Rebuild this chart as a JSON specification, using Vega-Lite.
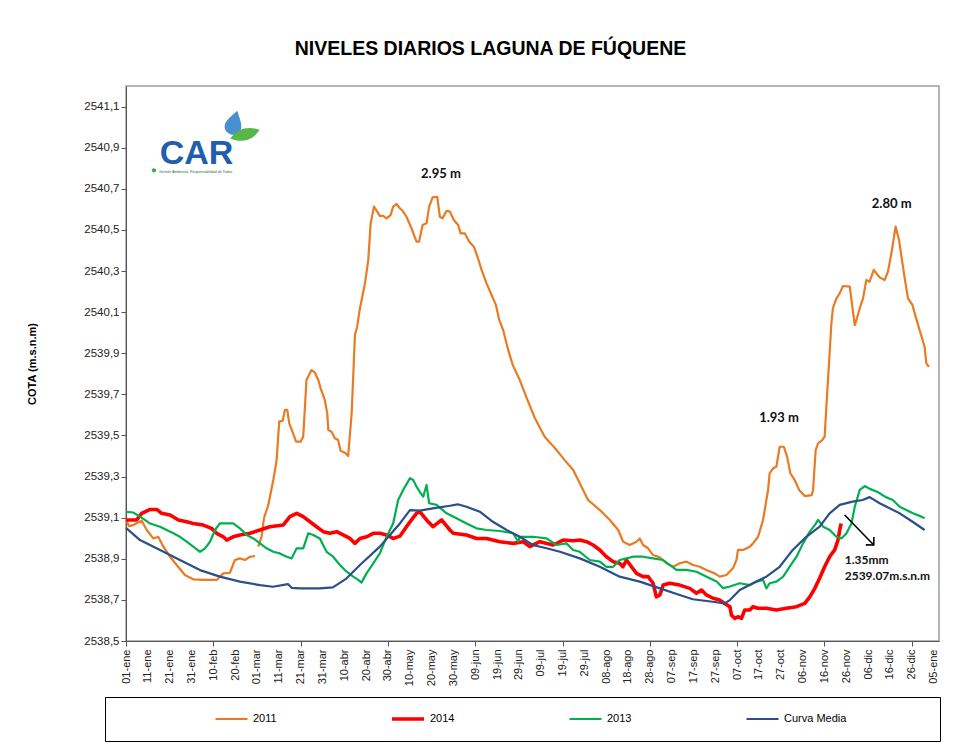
{
  "$schema": "https://vega.github.io/schema/vega-lite/v6.json",
  "width": 813,
  "height": 555,
  "autosize": {"type": "none"},
  "padding": {"left": 126, "top": 86, "right": 28, "bottom": 114},
  "background": "white",
  "title": {"text": "NIVELES DIARIOS LAGUNA DE FÚQUENE", "anchor": "middle", "frame": "group", "dx": -42, "offset": 12, "baseline": "alphabetic", "fontSize": 19.5, "fontWeight": "bold", "font": "Liberation Sans", "color": "#000000"},
  "config": {"font": "Liberation Sans", "view": {"stroke": "#9E9E9E", "strokeWidth": 1.5}},
  "datasets": {
    "niveles": [
      {"serie":"2011","dia":0,"cota":2539.089},{"serie":"2011","dia":1.4,"cota":2539.059},{"serie":"2011","dia":3.3,"cota":2539.064},{"serie":"2011","dia":7.2,"cota":2539.085},{"serie":"2011","dia":9.5,"cota":2539.04},{"serie":"2011","dia":12.5,"cota":2538.999},{"serie":"2011","dia":14.8,"cota":2539.007},{"serie":"2011","dia":17.1,"cota":2538.959},{"serie":"2011","dia":20.2,"cota":2538.91},{"serie":"2011","dia":23.2,"cota":2538.87},{"serie":"2011","dia":27,"cota":2538.821},{"serie":"2011","dia":30.8,"cota":2538.8},{"serie":"2011","dia":35.4,"cota":2538.797},{"serie":"2011","dia":41.5,"cota":2538.797},{"serie":"2011","dia":43,"cota":2538.813},{"serie":"2011","dia":44.6,"cota":2538.829},{"serie":"2011","dia":47.6,"cota":2538.832},{"serie":"2011","dia":49.9,"cota":2538.894},{"serie":"2011","dia":52.2,"cota":2538.902},{"serie":"2011","dia":54.5,"cota":2538.894},{"serie":"2011","dia":56.8,"cota":2538.91},{"serie":"2011","dia":59.1,"cota":2538.913},{"serie":"2011","dia":59.9,"cota":null},{"serie":"2011","dia":60.6,"cota":2538.959},{"serie":"2011","dia":62.1,"cota":2539.007},{"serie":"2011","dia":63.2,"cota":2539.097},{"serie":"2011","dia":65.2,"cota":2539.162},{"serie":"2011","dia":67.5,"cota":2539.283},{"serie":"2011","dia":69,"cota":2539.38},{"serie":"2011","dia":70.2,"cota":2539.567},{"serie":"2011","dia":71.8,"cota":2539.572},{"serie":"2011","dia":72.8,"cota":2539.624},{"serie":"2011","dia":73.9,"cota":2539.624},{"serie":"2011","dia":74.8,"cota":2539.559},{"serie":"2011","dia":76.3,"cota":2539.518},{"serie":"2011","dia":77.9,"cota":2539.47},{"serie":"2011","dia":80,"cota":2539.47},{"serie":"2011","dia":81.2,"cota":2539.494},{"serie":"2011","dia":82.7,"cota":2539.77},{"serie":"2011","dia":85,"cota":2539.818},{"serie":"2011","dia":86.6,"cota":2539.805},{"serie":"2011","dia":88.1,"cota":2539.77},{"serie":"2011","dia":89.2,"cota":2539.729},{"serie":"2011","dia":91.1,"cota":2539.672},{"serie":"2011","dia":92.2,"cota":2539.608},{"serie":"2011","dia":92.7,"cota":2539.526},{"serie":"2011","dia":94.2,"cota":2539.518},{"serie":"2011","dia":95.7,"cota":2539.486},{"serie":"2011","dia":97.2,"cota":2539.478},{"serie":"2011","dia":98.3,"cota":2539.426},{"serie":"2011","dia":100.3,"cota":2539.416},{"serie":"2011","dia":101.8,"cota":2539.4},{"serie":"2011","dia":103.4,"cota":2539.608},{"serie":"2011","dia":104.9,"cota":2539.989},{"serie":"2011","dia":105.9,"cota":2540.029},{"serie":"2011","dia":107.2,"cota":2540.119},{"serie":"2011","dia":109.5,"cota":2540.24},{"serie":"2011","dia":111,"cota":2540.353},{"serie":"2011","dia":112.1,"cota":2540.532},{"serie":"2011","dia":113.6,"cota":2540.613},{"serie":"2011","dia":115.1,"cota":2540.589},{"serie":"2011","dia":116.3,"cota":2540.568},{"serie":"2011","dia":117.8,"cota":2540.568},{"serie":"2011","dia":119.4,"cota":2540.556},{"serie":"2011","dia":121.2,"cota":2540.572},{"serie":"2011","dia":122.4,"cota":2540.613},{"serie":"2011","dia":124,"cota":2540.626},{"serie":"2011","dia":125.5,"cota":2540.605},{"serie":"2011","dia":127,"cota":2540.589},{"serie":"2011","dia":128.5,"cota":2540.564},{"serie":"2011","dia":130.8,"cota":2540.508},{"serie":"2011","dia":133.1,"cota":2540.443},{"serie":"2011","dia":134.3,"cota":2540.443},{"serie":"2011","dia":135.9,"cota":2540.524},{"serie":"2011","dia":137.7,"cota":2540.532},{"serie":"2011","dia":138.9,"cota":2540.613},{"serie":"2011","dia":140.5,"cota":2540.658},{"serie":"2011","dia":142.6,"cota":2540.661},{"serie":"2011","dia":143.8,"cota":2540.564},{"serie":"2011","dia":145,"cota":2540.556},{"serie":"2011","dia":146.9,"cota":2540.593},{"serie":"2011","dia":148.4,"cota":2540.589},{"serie":"2011","dia":150.2,"cota":2540.548},{"serie":"2011","dia":152.2,"cota":2540.524},{"serie":"2011","dia":153.3,"cota":2540.483},{"serie":"2011","dia":155.3,"cota":2540.483},{"serie":"2011","dia":157.2,"cota":2540.443},{"serie":"2011","dia":159.4,"cota":2540.418},{"serie":"2011","dia":161.3,"cota":2540.362},{"serie":"2011","dia":162.9,"cota":2540.305},{"serie":"2011","dia":165.2,"cota":2540.24},{"serie":"2011","dia":167.5,"cota":2540.183},{"serie":"2011","dia":169.5,"cota":2540.135},{"serie":"2011","dia":171,"cota":2540.062},{"serie":"2011","dia":172.8,"cota":2540.013},{"serie":"2011","dia":175.1,"cota":2539.916},{"serie":"2011","dia":177.2,"cota":2539.843},{"serie":"2011","dia":180.4,"cota":2539.77},{"serie":"2011","dia":183.6,"cota":2539.682},{"serie":"2011","dia":187.3,"cota":2539.585},{"serie":"2011","dia":191.9,"cota":2539.492},{"serie":"2011","dia":196.5,"cota":2539.439},{"serie":"2011","dia":201,"cota":2539.38},{"serie":"2011","dia":204.9,"cota":2539.332},{"serie":"2011","dia":207.9,"cota":2539.267},{"serie":"2011","dia":211.7,"cota":2539.186},{"serie":"2011","dia":217.1,"cota":2539.137},{"serie":"2011","dia":221.7,"cota":2539.089},{"serie":"2011","dia":225.5,"cota":2539.04},{"serie":"2011","dia":227.8,"cota":2538.983},{"serie":"2011","dia":230.8,"cota":2538.967},{"serie":"2011","dia":233.9,"cota":2538.983},{"serie":"2011","dia":235.4,"cota":2538.999},{"serie":"2011","dia":236.9,"cota":2538.967},{"serie":"2011","dia":239.2,"cota":2538.951},{"serie":"2011","dia":241.5,"cota":2538.918},{"serie":"2011","dia":244.6,"cota":2538.907},{"serie":"2011","dia":247.6,"cota":2538.878},{"serie":"2011","dia":250.7,"cota":2538.861},{"serie":"2011","dia":253.7,"cota":2538.878},{"serie":"2011","dia":256.8,"cota":2538.886},{"serie":"2011","dia":259.8,"cota":2538.87},{"serie":"2011","dia":262.9,"cota":2538.861},{"serie":"2011","dia":265.9,"cota":2538.845},{"serie":"2011","dia":269.7,"cota":2538.829},{"serie":"2011","dia":272,"cota":2538.813},{"serie":"2011","dia":275.1,"cota":2538.821},{"serie":"2011","dia":278.1,"cota":2538.854},{"serie":"2011","dia":279.7,"cota":2538.894},{"serie":"2011","dia":280.4,"cota":2538.943},{"serie":"2011","dia":282.7,"cota":2538.943},{"serie":"2011","dia":285.8,"cota":2538.959},{"serie":"2011","dia":287.3,"cota":2538.975},{"serie":"2011","dia":289.6,"cota":2539.007},{"serie":"2011","dia":291.9,"cota":2539.089},{"serie":"2011","dia":293.4,"cota":2539.186},{"serie":"2011","dia":294.2,"cota":2539.235},{"serie":"2011","dia":294.9,"cota":2539.316},{"serie":"2011","dia":296.5,"cota":2539.34},{"serie":"2011","dia":298,"cota":2539.348},{"serie":"2011","dia":299.5,"cota":2539.445},{"serie":"2011","dia":301.4,"cota":2539.445},{"serie":"2011","dia":302.9,"cota":2539.397},{"serie":"2011","dia":304.4,"cota":2539.316},{"serie":"2011","dia":306.4,"cota":2539.283},{"serie":"2011","dia":308.4,"cota":2539.235},{"serie":"2011","dia":311,"cota":2539.205},{"serie":"2011","dia":314.2,"cota":2539.21},{"serie":"2011","dia":314.8,"cota":2539.235},{"serie":"2011","dia":316,"cota":2539.429},{"serie":"2011","dia":317.1,"cota":2539.462},{"serie":"2011","dia":319.1,"cota":2539.478},{"serie":"2011","dia":320.1,"cota":2539.494},{"serie":"2011","dia":320.9,"cota":2539.64},{"serie":"2011","dia":322.1,"cota":2539.851},{"serie":"2011","dia":323.2,"cota":2540.046},{"serie":"2011","dia":323.9,"cota":2540.119},{"serie":"2011","dia":325.5,"cota":2540.167},{"serie":"2011","dia":327,"cota":2540.191},{"serie":"2011","dia":328.5,"cota":2540.227},{"serie":"2011","dia":331.6,"cota":2540.224},{"serie":"2011","dia":332.8,"cota":2540.126},{"serie":"2011","dia":333.9,"cota":2540.037},{"serie":"2011","dia":334.9,"cota":2540.07},{"serie":"2011","dia":336.2,"cota":2540.119},{"serie":"2011","dia":337.7,"cota":2540.167},{"serie":"2011","dia":339.2,"cota":2540.256},{"serie":"2011","dia":340.7,"cota":2540.248},{"serie":"2011","dia":342.6,"cota":2540.305},{"serie":"2011","dia":343.8,"cota":2540.289},{"serie":"2011","dia":345.3,"cota":2540.269},{"serie":"2011","dia":347.6,"cota":2540.256},{"serie":"2011","dia":349.1,"cota":2540.297},{"serie":"2011","dia":350.7,"cota":2540.386},{"serie":"2011","dia":352.6,"cota":2540.516},{"serie":"2011","dia":354.2,"cota":2540.451},{"serie":"2011","dia":355.3,"cota":2540.37},{"serie":"2011","dia":356.8,"cota":2540.264},{"serie":"2011","dia":358.3,"cota":2540.167},{"serie":"2011","dia":360.3,"cota":2540.135},{"serie":"2011","dia":361.8,"cota":2540.078},{"serie":"2011","dia":363.6,"cota":2540.013},{"serie":"2011","dia":365.9,"cota":2539.932},{"serie":"2011","dia":366.7,"cota":2539.851},{"serie":"2011","dia":367.9,"cota":2539.834},
      {"serie":"2014","dia":0,"cota":2539.089},{"serie":"2014","dia":4.9,"cota":2539.089},{"serie":"2014","dia":7.2,"cota":2539.121},{"serie":"2014","dia":11,"cota":2539.14},{"serie":"2014","dia":14.1,"cota":2539.14},{"serie":"2014","dia":16.3,"cota":2539.121},{"serie":"2014","dia":20.2,"cota":2539.113},{"serie":"2014","dia":24,"cota":2539.089},{"serie":"2014","dia":27.8,"cota":2539.08},{"serie":"2014","dia":30.8,"cota":2539.072},{"serie":"2014","dia":35.4,"cota":2539.064},{"serie":"2014","dia":39.2,"cota":2539.048},{"serie":"2014","dia":41.5,"cota":2539.024},{"serie":"2014","dia":44.6,"cota":2539.007},{"serie":"2014","dia":46.1,"cota":2538.991},{"serie":"2014","dia":49.1,"cota":2539.007},{"serie":"2014","dia":52.2,"cota":2539.016},{"serie":"2014","dia":56.8,"cota":2539.024},{"serie":"2014","dia":61.4,"cota":2539.04},{"serie":"2014","dia":65.9,"cota":2539.056},{"serie":"2014","dia":72,"cota":2539.064},{"serie":"2014","dia":75.1,"cota":2539.105},{"serie":"2014","dia":78.2,"cota":2539.121},{"serie":"2014","dia":81.2,"cota":2539.105},{"serie":"2014","dia":84.3,"cota":2539.08},{"serie":"2014","dia":87.3,"cota":2539.056},{"serie":"2014","dia":90.4,"cota":2539.032},{"serie":"2014","dia":93.4,"cota":2539.024},{"serie":"2014","dia":96.5,"cota":2539.032},{"serie":"2014","dia":99.5,"cota":2539.016},{"serie":"2014","dia":102.6,"cota":2538.999},{"serie":"2014","dia":104.9,"cota":2538.975},{"serie":"2014","dia":107.2,"cota":2538.999},{"serie":"2014","dia":110.2,"cota":2539.007},{"serie":"2014","dia":113.3,"cota":2539.024},{"serie":"2014","dia":116.3,"cota":2539.024},{"serie":"2014","dia":119.4,"cota":2539.016},{"serie":"2014","dia":122.4,"cota":2538.999},{"serie":"2014","dia":125.5,"cota":2539.01},{"serie":"2014","dia":128.5,"cota":2539.056},{"serie":"2014","dia":130.8,"cota":2539.089},{"serie":"2014","dia":133.1,"cota":2539.121},{"serie":"2014","dia":134.6,"cota":2539.129},{"serie":"2014","dia":137.7,"cota":2539.089},{"serie":"2014","dia":140.7,"cota":2539.056},{"serie":"2014","dia":144.6,"cota":2539.089},{"serie":"2014","dia":148.4,"cota":2539.04},{"serie":"2014","dia":149.9,"cota":2539.024},{"serie":"2014","dia":156,"cota":2539.016},{"serie":"2014","dia":160.6,"cota":2538.999},{"serie":"2014","dia":165.2,"cota":2538.999},{"serie":"2014","dia":171.3,"cota":2538.983},{"serie":"2014","dia":177.4,"cota":2538.975},{"serie":"2014","dia":182,"cota":2538.983},{"serie":"2014","dia":185,"cota":2538.959},{"serie":"2014","dia":189.6,"cota":2538.983},{"serie":"2014","dia":195.7,"cota":2538.967},{"serie":"2014","dia":200.3,"cota":2538.991},{"serie":"2014","dia":204.9,"cota":2538.988},{"serie":"2014","dia":207.9,"cota":2538.991},{"serie":"2014","dia":211,"cota":2538.983},{"serie":"2014","dia":214,"cota":2538.967},{"serie":"2014","dia":217.1,"cota":2538.943},{"serie":"2014","dia":220.1,"cota":2538.91},{"serie":"2014","dia":223.2,"cota":2538.886},{"serie":"2014","dia":226.2,"cota":2538.878},{"serie":"2014","dia":227.7,"cota":2538.861},{"serie":"2014","dia":229.3,"cota":2538.894},{"serie":"2014","dia":231.6,"cota":2538.861},{"serie":"2014","dia":233.9,"cota":2538.829},{"serie":"2014","dia":236.9,"cota":2538.813},{"serie":"2014","dia":239.2,"cota":2538.813},{"serie":"2014","dia":241.5,"cota":2538.781},{"serie":"2014","dia":243,"cota":2538.715},{"serie":"2014","dia":244.6,"cota":2538.724},{"serie":"2014","dia":246.1,"cota":2538.772},{"serie":"2014","dia":249.1,"cota":2538.781},{"serie":"2014","dia":253.7,"cota":2538.772},{"serie":"2014","dia":258.3,"cota":2538.756},{"serie":"2014","dia":261.4,"cota":2538.732},{"serie":"2014","dia":263.7,"cota":2538.748},{"serie":"2014","dia":265.9,"cota":2538.724},{"serie":"2014","dia":269,"cota":2538.708},{"serie":"2014","dia":272,"cota":2538.699},{"serie":"2014","dia":274.3,"cota":2538.683},{"serie":"2014","dia":276.7,"cota":2538.667},{"serie":"2014","dia":277.4,"cota":2538.626},{"serie":"2014","dia":279,"cota":2538.61},{"serie":"2014","dia":280.4,"cota":2538.618},{"serie":"2014","dia":282,"cota":2538.61},{"serie":"2014","dia":283.5,"cota":2538.651},{"serie":"2014","dia":285.8,"cota":2538.651},{"serie":"2014","dia":287.3,"cota":2538.667},{"serie":"2014","dia":289.6,"cota":2538.659},{"serie":"2014","dia":293.4,"cota":2538.659},{"serie":"2014","dia":298,"cota":2538.651},{"serie":"2014","dia":302.6,"cota":2538.659},{"serie":"2014","dia":307.2,"cota":2538.667},{"serie":"2014","dia":311,"cota":2538.683},{"serie":"2014","dia":313.3,"cota":2538.715},{"serie":"2014","dia":315.6,"cota":2538.756},{"serie":"2014","dia":317.8,"cota":2538.805},{"serie":"2014","dia":320.1,"cota":2538.861},{"serie":"2014","dia":322.4,"cota":2538.91},{"serie":"2014","dia":324.7,"cota":2538.943},{"serie":"2014","dia":326.2,"cota":2538.991},{"serie":"2014","dia":327.3,"cota":2539.056},{"serie":"2014","dia":327.7,"cota":2539.072},
      {"serie":"2013","dia":0,"cota":2539.128},{"serie":"2013","dia":3.3,"cota":2539.125},{"serie":"2013","dia":6.4,"cota":2539.105},{"serie":"2013","dia":11,"cota":2539.072},{"serie":"2013","dia":15.6,"cota":2539.056},{"serie":"2013","dia":18.6,"cota":2539.04},{"serie":"2013","dia":21.7,"cota":2539.024},{"serie":"2013","dia":24.7,"cota":2539.007},{"serie":"2013","dia":27.8,"cota":2538.983},{"serie":"2013","dia":30.8,"cota":2538.959},{"serie":"2013","dia":33.9,"cota":2538.934},{"serie":"2013","dia":36.2,"cota":2538.951},{"serie":"2013","dia":38.5,"cota":2538.983},{"serie":"2013","dia":40.8,"cota":2539.04},{"serie":"2013","dia":43,"cota":2539.072},{"serie":"2013","dia":46.1,"cota":2539.072},{"serie":"2013","dia":49.1,"cota":2539.072},{"serie":"2013","dia":52.2,"cota":2539.048},{"serie":"2013","dia":55.3,"cota":2539.016},{"serie":"2013","dia":58.3,"cota":2538.999},{"serie":"2013","dia":61.4,"cota":2538.975},{"serie":"2013","dia":64.4,"cota":2538.951},{"serie":"2013","dia":67.5,"cota":2538.934},{"serie":"2013","dia":70.5,"cota":2538.926},{"serie":"2013","dia":73.6,"cota":2538.91},{"serie":"2013","dia":75.9,"cota":2538.902},{"serie":"2013","dia":78.2,"cota":2538.951},{"serie":"2013","dia":81.2,"cota":2538.951},{"serie":"2013","dia":83.5,"cota":2539.024},{"serie":"2013","dia":85.8,"cota":2539.016},{"serie":"2013","dia":88.8,"cota":2538.999},{"serie":"2013","dia":91.9,"cota":2538.934},{"serie":"2013","dia":94.9,"cota":2538.91},{"serie":"2013","dia":98,"cota":2538.87},{"serie":"2013","dia":101.1,"cota":2538.837},{"serie":"2013","dia":104.1,"cota":2538.813},{"serie":"2013","dia":106.4,"cota":2538.797},{"serie":"2013","dia":107.9,"cota":2538.784},{"serie":"2013","dia":110.2,"cota":2538.829},{"serie":"2013","dia":113.3,"cota":2538.878},{"serie":"2013","dia":116.3,"cota":2538.926},{"serie":"2013","dia":119.4,"cota":2539.007},{"serie":"2013","dia":122.4,"cota":2539.072},{"serie":"2013","dia":124.7,"cota":2539.186},{"serie":"2013","dia":127,"cota":2539.235},{"serie":"2013","dia":130.1,"cota":2539.292},{"serie":"2013","dia":131.6,"cota":2539.283},{"serie":"2013","dia":133.1,"cota":2539.251},{"serie":"2013","dia":134.6,"cota":2539.226},{"serie":"2013","dia":136.2,"cota":2539.202},{"serie":"2013","dia":137.7,"cota":2539.259},{"serie":"2013","dia":138.9,"cota":2539.17},{"serie":"2013","dia":142.3,"cota":2539.162},{"serie":"2013","dia":146.9,"cota":2539.121},{"serie":"2013","dia":151.4,"cota":2539.097},{"serie":"2013","dia":156,"cota":2539.072},{"serie":"2013","dia":160.6,"cota":2539.048},{"serie":"2013","dia":165.2,"cota":2539.04},{"serie":"2013","dia":171.3,"cota":2539.035},{"serie":"2013","dia":177.4,"cota":2539.024},{"serie":"2013","dia":179.7,"cota":2538.983},{"serie":"2013","dia":180.4,"cota":2539.007},{"serie":"2013","dia":186.5,"cota":2539.007},{"serie":"2013","dia":192.7,"cota":2538.999},{"serie":"2013","dia":197.2,"cota":2538.967},{"serie":"2013","dia":201.8,"cota":2538.975},{"serie":"2013","dia":204.9,"cota":2538.943},{"serie":"2013","dia":207.9,"cota":2538.934},{"serie":"2013","dia":212.5,"cota":2538.894},{"serie":"2013","dia":217.1,"cota":2538.886},{"serie":"2013","dia":220.1,"cota":2538.861},{"serie":"2013","dia":223.2,"cota":2538.861},{"serie":"2013","dia":226.2,"cota":2538.894},{"serie":"2013","dia":229.3,"cota":2538.902},{"serie":"2013","dia":232.3,"cota":2538.91},{"serie":"2013","dia":236.9,"cota":2538.91},{"serie":"2013","dia":241.5,"cota":2538.902},{"serie":"2013","dia":246.1,"cota":2538.894},{"serie":"2013","dia":249.1,"cota":2538.87},{"serie":"2013","dia":252.2,"cota":2538.846},{"serie":"2013","dia":256.7,"cota":2538.846},{"serie":"2013","dia":261.4,"cota":2538.837},{"serie":"2013","dia":266,"cota":2538.813},{"serie":"2013","dia":270.6,"cota":2538.789},{"serie":"2013","dia":273.6,"cota":2538.757},{"serie":"2013","dia":276.7,"cota":2538.765},{"serie":"2013","dia":281.2,"cota":2538.781},{"serie":"2013","dia":285.8,"cota":2538.772},{"serie":"2013","dia":288.8,"cota":2538.789},{"serie":"2013","dia":291.9,"cota":2538.797},{"serie":"2013","dia":293.4,"cota":2538.756},{"serie":"2013","dia":294.9,"cota":2538.781},{"serie":"2013","dia":298,"cota":2538.789},{"serie":"2013","dia":301.1,"cota":2538.813},{"serie":"2013","dia":304.1,"cota":2538.862},{"serie":"2013","dia":307.2,"cota":2538.91},{"serie":"2013","dia":310.2,"cota":2538.975},{"serie":"2013","dia":313.3,"cota":2539.032},{"serie":"2013","dia":315.6,"cota":2539.064},{"serie":"2013","dia":317.1,"cota":2539.089},{"serie":"2013","dia":319.4,"cota":2539.056},{"serie":"2013","dia":322.4,"cota":2539.04},{"serie":"2013","dia":325.5,"cota":2539.007},{"serie":"2013","dia":327.8,"cota":2538.999},{"serie":"2013","dia":330.1,"cota":2539.024},{"serie":"2013","dia":332.4,"cota":2539.072},{"serie":"2013","dia":333.9,"cota":2539.153},{"serie":"2013","dia":336.2,"cota":2539.235},{"serie":"2013","dia":338.5,"cota":2539.254},{"serie":"2013","dia":340.8,"cota":2539.24},{"serie":"2013","dia":344.4,"cota":2539.225},{"serie":"2013","dia":348.1,"cota":2539.2},{"serie":"2013","dia":351.3,"cota":2539.186},{"serie":"2013","dia":354.5,"cota":2539.153},{"serie":"2013","dia":357.5,"cota":2539.137},{"serie":"2013","dia":360.6,"cota":2539.121},{"serie":"2013","dia":364.4,"cota":2539.105},{"serie":"2013","dia":365.9,"cota":2539.097},
      {"serie":"Curva Media","dia":0,"cota":2539.05},{"serie":"Curva Media","dia":6.4,"cota":2538.991},{"serie":"Curva Media","dia":15.6,"cota":2538.943},{"serie":"Curva Media","dia":24.7,"cota":2538.894},{"serie":"Curva Media","dia":33.9,"cota":2538.845},{"serie":"Curva Media","dia":43,"cota":2538.813},{"serie":"Curva Media","dia":52.2,"cota":2538.789},{"serie":"Curva Media","dia":61.4,"cota":2538.772},{"serie":"Curva Media","dia":67.3,"cota":2538.764},{"serie":"Curva Media","dia":74.2,"cota":2538.777},{"serie":"Curva Media","dia":76,"cota":2538.758},{"serie":"Curva Media","dia":79.7,"cota":2538.756},{"serie":"Curva Media","dia":88.8,"cota":2538.756},{"serie":"Curva Media","dia":94.8,"cota":2538.761},{"serie":"Curva Media","dia":101.1,"cota":2538.805},{"serie":"Curva Media","dia":107.2,"cota":2538.87},{"serie":"Curva Media","dia":116.3,"cota":2538.959},{"serie":"Curva Media","dia":120.9,"cota":2539.016},{"serie":"Curva Media","dia":125.5,"cota":2539.072},{"serie":"Curva Media","dia":130.1,"cota":2539.137},{"serie":"Curva Media","dia":134.6,"cota":2539.134},{"serie":"Curva Media","dia":140.6,"cota":2539.145},{"serie":"Curva Media","dia":148.4,"cota":2539.158},{"serie":"Curva Media","dia":152,"cota":2539.165},{"serie":"Curva Media","dia":156,"cota":2539.153},{"serie":"Curva Media","dia":162.1,"cota":2539.129},{"serie":"Curva Media","dia":168.1,"cota":2539.08},{"serie":"Curva Media","dia":174.4,"cota":2539.04},{"serie":"Curva Media","dia":180.4,"cota":2539.007},{"serie":"Curva Media","dia":186.4,"cota":2538.967},{"serie":"Curva Media","dia":192.7,"cota":2538.951},{"serie":"Curva Media","dia":198.8,"cota":2538.934},{"serie":"Curva Media","dia":207.9,"cota":2538.902},{"serie":"Curva Media","dia":217.1,"cota":2538.861},{"serie":"Curva Media","dia":226.2,"cota":2538.813},{"serie":"Curva Media","dia":235.4,"cota":2538.789},{"serie":"Curva Media","dia":244.6,"cota":2538.756},{"serie":"Curva Media","dia":253.7,"cota":2538.724},{"serie":"Curva Media","dia":259.7,"cota":2538.703},{"serie":"Curva Media","dia":268.8,"cota":2538.691},{"serie":"Curva Media","dia":274.3,"cota":2538.683},{"serie":"Curva Media","dia":276.7,"cota":2538.699},{"serie":"Curva Media","dia":281.2,"cota":2538.748},{"serie":"Curva Media","dia":287.3,"cota":2538.781},{"serie":"Curva Media","dia":293.4,"cota":2538.813},{"serie":"Curva Media","dia":299.5,"cota":2538.861},{"serie":"Curva Media","dia":305.5,"cota":2538.943},{"serie":"Curva Media","dia":311.7,"cota":2539.007},{"serie":"Curva Media","dia":317.8,"cota":2539.056},{"serie":"Curva Media","dia":322.4,"cota":2539.121},{"serie":"Curva Media","dia":327,"cota":2539.162},{"serie":"Curva Media","dia":332.9,"cota":2539.178},{"serie":"Curva Media","dia":337.5,"cota":2539.186},{"serie":"Curva Media","dia":340.7,"cota":2539.2},{"serie":"Curva Media","dia":345.3,"cota":2539.17},{"serie":"Curva Media","dia":354.5,"cota":2539.121},{"serie":"Curva Media","dia":360.4,"cota":2539.08},{"serie":"Curva Media","dia":365.9,"cota":2539.04}
    ],
    "picos": [
      {"texto":"2.95 m","dia":144.3,"cota":2540.774},
      {"texto":"1.93 m","dia":299.2,"cota":2539.587},
      {"texto":"2.80 m","dia":350.8,"cota":2540.626}
    ],
    "nota": [
      {"texto":"1.35mm","dia":329.3,"cota":2538.894},
      {"texto":"2539.07m.s.n.m","dia":329.3,"cota":2538.816}
    ],
    "flecha": [{"dia":329.3,"cota":2539.113,"dia2":342.6,"cota2":2538.967}],
    "punta": [{"dia":342.6,"cota":2538.967}],
    "logo": [{"texto":"CAR","dia":32.3,"cota":2540.821}],
    "lema": [{"texto":"Gestión Ambiental, Responsabilidad de Todos","dia":15.1,"cota":2540.79}],
    "gota": [{"dia":49.5,"cota":2541.022}],
    "hoja": [{"dia":54.5,"cota":2540.962}],
    "punto": [{"dia":12.8,"cota":2540.79}]
  },
  "encoding": {
    "x": {"field": "dia", "type": "quantitative", "scale": {"domain": [0, 372.5], "nice": false, "zero": false},
      "axis": {"title": null, "values": [0,10,20,30,40,50,60,70,80,90,100,110,120,130,140,150,160,170,180,190,200,210,220,230,240,250,260,270,280,290,300,310,320,330,340,350,360,370],
        "labelExpr": "utcFormat(utc(2012,0,1+datum.value),'%d') + '-' + ['ene','feb','mar','abr','may','jun','jul','ago','sep','oct','nov','dic'][utcmonth(utc(2012,0,1+datum.value))]",
        "labelAngle": 270, "labelFontSize": 11, "labelColor": "#222222", "labelPadding": 3, "labelFlush": false, "labelOverlap": false, "labelBound": false,
        "tickSize": 5, "tickColor": "#555555", "tickOpacity": {"condition": {"test": "datum.value % 40 === 0", "value": 1}, "value": 0},
        "domainColor": "#555555", "grid": false}},
    "y": {"field": "cota", "type": "quantitative", "scale": {"domain": [2538.5, 2541.2], "nice": false, "zero": false},
      "axis": {"title": "COTA (m.s.n.m)", "values": [2538.5,2538.7,2538.9,2539.1,2539.3,2539.5,2539.7,2539.9,2540.1,2540.3,2540.5,2540.7,2540.9,2541.1],
        "labelExpr": "replace(format(datum.value,'.1f'),'.',',')",
        "labelFontSize": 11.5, "labelColor": "#222222", "labelFlush": false, "tickSize": 5, "tickColor": "#555555", "domainColor": "#555555", "grid": false,
        "titleFontSize": 11, "titleFontWeight": "bold", "titleColor": "#000000", "titleX": -94, "titleY": 277.5, "titleAngle": 270, "titleAlign": "center", "titleBaseline": "middle"}}
  },
  "layer": [
    {
      "data": {"name": "niveles"},
      "mark": {"type": "line", "strokeJoin": "round", "invalid": "break-paths-filter-domains"},
      "encoding": {
        "color": {"field": "serie", "type": "nominal",
          "scale": {"domain": ["2011", "2014", "2013", "Curva Media"], "range": ["#E87B23", "#FF0000", "#00B050", "#2B4F86"]},
          "legend": {"title": "\u2800", "titleOrient": "left", "titleFontSize": 11, "titleColor": "#ffffff", "titlePadding": 86,
            "orient": "none", "legendX": -21, "legendY": 611, "direction": "horizontal",
            "symbolType": "stroke", "symbolSize": 1024, "clipHeight": 14, "columnPadding": 113,
            "labelFontSize": 11, "labelColor": "#000000", "labelOffset": 4, "labelLimit": 300,
            "labelExpr": "datum.label === 'Curva Media' ? pad(datum.label, 34, '\u00a0') + '\u2800' : datum.label",
            "padding": 15, "strokeColor": "#000000", "fillColor": "white"}},
        "strokeWidth": {"field": "serie", "type": "nominal",
          "scale": {"type": "ordinal", "domain": ["2011", "2014", "2013", "Curva Media"], "range": [2.2, 3.6, 2.2, 2.2]}}
      }
    },
    {
      "data": {"name": "flecha"},
      "mark": {"type": "rule", "color": "#000000", "strokeWidth": 1.6},
      "encoding": {"x2": {"field": "dia2"}, "y2": {"field": "cota2"}}
    },
    {
      "data": {"name": "punta"},
      "mark": {"type": "point", "shape": "M-0.7,0.7L0,0L0.7,0.7", "filled": false, "stroke": "#000000", "strokeWidth": 1.6, "size": 260, "angle": 136, "opacity": 1}
    },
    {
      "data": {"name": "picos"},
      "mark": {"type": "text", "font": "Lato", "fontWeight": "bold", "fontSize": 13, "color": "#111111", "align": "center", "baseline": "middle"},
      "encoding": {"text": {"field": "texto"}}
    },
    {
      "data": {"name": "nota"},
      "mark": {"type": "text", "font": "Lato", "fontWeight": "bold", "fontSize": 12, "color": "#111111", "align": "left", "baseline": "middle"},
      "encoding": {"text": {"field": "texto"}}
    },
    {
      "data": {"name": "logo"},
      "mark": {"type": "text", "font": "Liberation Sans", "fontWeight": "bold", "fontSize": 34, "color": "#1F5FAD", "align": "center", "baseline": "alphabetic"},
      "encoding": {"text": {"field": "texto"}}
    },
    {
      "data": {"name": "lema"},
      "mark": {"type": "text", "font": "Liberation Sans", "fontSize": 3.6, "color": "#2E6B3A", "align": "left", "baseline": "top"},
      "encoding": {"text": {"field": "texto"}}
    },
    {
      "data": {"name": "punto"},
      "mark": {"type": "point", "shape": "circle", "filled": true, "color": "#3DAA3D", "size": 18, "opacity": 1}
    },
    {
      "data": {"name": "gota"},
      "mark": {"type": "point", "shape": "M0,-1C0.35,-0.45 0.68,-0.05 0.68,0.35C0.68,0.75 0.35,1 0,1C-0.35,1 -0.68,0.75 -0.68,0.35C-0.68,-0.05 -0.35,-0.45 0,-1Z", "filled": true, "color": "#4A8FCF", "size": 600, "angle": 15, "opacity": 1}
    },
    {
      "data": {"name": "hoja"},
      "mark": {"type": "point", "shape": "M-1,0.25C-0.5,-0.55 0.4,-0.6 1,-0.35C0.6,0.35 -0.2,0.6 -1,0.25Z", "filled": true, "color": "#55B848", "size": 850, "opacity": 1}
    }
  ]
}
